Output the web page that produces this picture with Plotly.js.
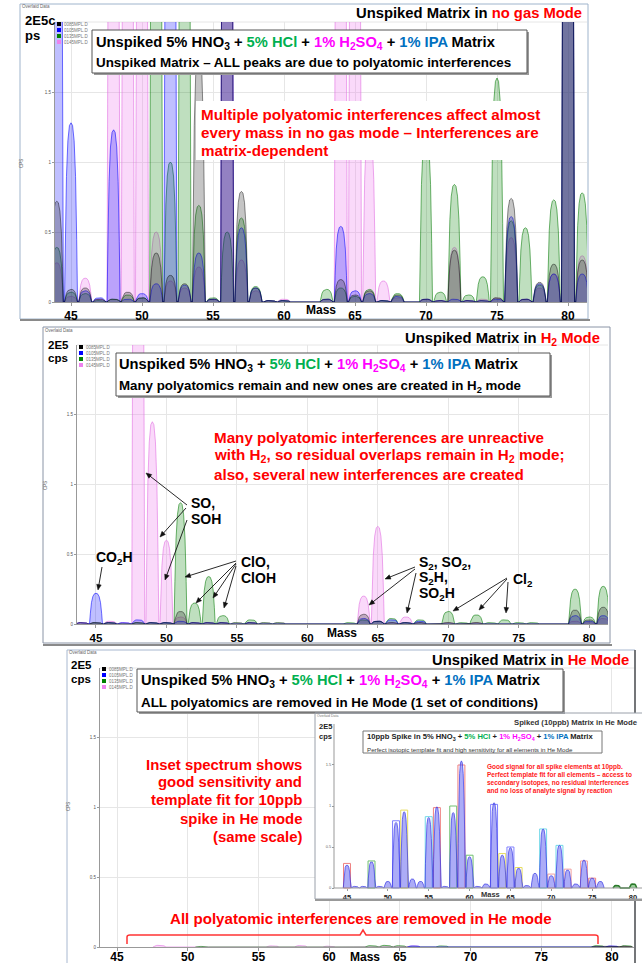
<!DOCTYPE html>
<html><head><meta charset="utf-8">
<script src="https://cdn.plot.ly/plotly-3.0.1.min.js"></script>
<style>html,body{margin:0;padding:0;background:#fff}#chart{width:642px;height:963px}</style>
</head><body><div id="chart"></div>
<script>
// ================= DATA =================
const seriesNames = ['0085MPL.D', '0105MPL.D', '0135MPL.D', '0145MPL.D'];
const massTicks = [45, 50, 55, 60, 65, 70, 75, 80];
const yTickVals = [0, 0.5, 1, 1.5];
const yTickText = ['0', '0.5', '1', '1.5'];

// Panel 1 : unspiked matrix, no gas mode (x1E5 cps; 6 = off scale)
const noGasMass  = [44,45,46,47,48,49,50,51,52,53,54,55,56,57,58,59,60,63,64,65,66,67,68,70,71,72,73,74,75,76,77,78,79,80,81];
const noGasBlack = [0.72,0.09,0.10,0.02,0.02,0.07,0.03,0.35,0.19,0.13,1.80,0.02,6,0.79,0.10,0.01,0.01,0.02,0.16,0.05,0.08,0.01,0.05,0.02,0.01,0.37,0.01,0.01,0.03,0.74,0.02,0.14,0.27,6,0.30];
const noGasBlue  = [6,1.28,0.08,0.03,1.23,0.02,0.06,0.13,6,0.12,0.35,0.02,6,0.53,0.10,0.01,0.01,0.02,0.54,0.08,0.06,0.01,0.04,0.02,0.01,0.02,0.01,0.01,0.02,0.61,0.02,0.13,0.20,6,0.20];
const noGasGreen = [0.39,0.07,0.06,0.01,0.02,0.05,0.03,6,1.00,6,0.69,0.03,0.50,0.60,0.11,0.01,0.01,0.09,0.10,0.04,0.09,0.01,0.06,1.20,0.07,0.84,0.05,0.18,1.60,0.58,0.53,0.12,0.73,6,0.78];
const noGasPink  = [0.28,0.04,0.17,0.02,6,6,6,0.50,0.15,0.10,0.25,0.02,6,0.30,0.08,0.01,0.02,0.02,6,6,1.25,0.15,0.03,0.02,0.01,0.39,0.01,0.02,0.03,0.46,0.02,0.10,0.20,6,0.33];

// Panel 2 : unspiked matrix, H2 mode
const h2Mass  = [44,45,46,47,48,49,50,51,52,53,54,55,56,57,58,63,64,65,66,67,68,70,71,72,73,74,75,76,79,80,81];
const h2Black = [0.01,0.01,0.01,0,0.01,0.01,0.01,0.09,0.01,0.01,0.01,0,0.01,0,0,0,0.07,0.02,0.01,0.01,0.01,0.01,0,0.01,0,0,0,0,0.10,0.03,0.12];
const h2Blue  = [0.01,0.22,0.01,0.01,0.03,0.01,0.01,0.02,0.01,0.01,0.01,0,0.01,0,0,0,0.04,0.02,0.03,0.01,0.02,0,0,0,0,0,0,0,0.06,0.02,0.06];
const h2Green = [0,0.01,0.01,0,0.01,0.01,0.01,0.87,0.15,0.34,0.06,0.01,0.03,0.01,0.01,0.01,0.03,0.02,0.04,0.01,0.03,0.09,0.01,0.065,0.01,0.03,0.01,0.01,0.25,0.05,0.27];
const h2Pink  = [0.01,0.01,0.02,0.01,6,1.45,0.60,0.05,0.01,0.01,0.01,0.01,0.01,0.01,0.01,0,0.20,0.70,0.01,0.05,0.01,0.01,0,0.01,0,0,0,0,0.02,0.01,0.04];

// Panel 3 : unspiked matrix, He mode
const heMass  = [48,51,56,58,60,63,64,65,66,68,79,80,81];
const heBlack = [0,0,0,0,0,0,0,0,0,0,0.005,0,0.005];
const heBlue  = [0,0,0,0,0,0,0,0,0.008,0,0,0.008,0];
const heGreen = [0,0.004,0,0,0,0.01,0.012,0.01,0,0.008,0.01,0,0.01];
const hePink  = [0.012,0,0.008,0.01,0.006,0,0,0,0.008,0,0,0.006,0.006];

// Inset : 10 ppb spike, He mode
const spikeMass = [45,46,47,48,49,50,51,52,53,54,55,56,57,58,59,60,61,62,63,64,65,66,67,68,69,70,71,72,73,74,75,76];
const spikeCps  = [0.28,0.02,0.02,0.32,0.02,0.08,0.80,0.93,0.11,0.08,0.86,0.99,0.02,0.92,1.55,0.38,0.02,0.05,1.04,0.40,0.49,0.24,0.03,0.18,0.72,0.15,0.52,0.22,0.05,0.34,0.12,0.08];
const spikeFlatMass = [78, 80];
const spikeFlatCps  = [0.03, 0.05];
const templateMass = [45,48,51,52,55,56,58,59,60,63,64,65,66,69,70,71,72,74,75];
const templateCps  = [0.30,0.33,0.82,0.95,0.87,0.98,1.00,1.50,0.40,1.02,0.42,0.50,0.25,0.72,0.17,0.52,0.23,0.33,0.12];

// ================= STYLE =================
const templateColors = ['#ee8080','#70c070','#8080ff','#e6dc60','#70d8e8','#ee8080','#70c070','#ee8080','#70c070','#8080ff','#e6dc60','#8080ff','#e6dc60','#70d8e8','#f0a0a0','#70d8e8','#f0a0a0','#f0a0a0','#ee8080'];
const PROFILE_DX = [-0.46,-0.4,-0.32,-0.22,-0.11,0,0.11,0.22,0.32,0.4,0.46];
const PROFILE_F  = [0,0.35,0.7,0.9,0.985,1,0.985,0.9,0.7,0.35,0];
const SANS = 'Liberation Sans, Arial, sans-serif';
const NARROW = 'Liberation Sans Narrow, Arial Narrow, Liberation Sans, Arial, sans-serif';
const SER = [
  {line:'rgba(0,0,0,0.55)', fill:'rgba(40,40,40,0.27)', sq:'#000000'},
  {line:'rgba(0,0,255,0.7)', fill:'rgba(0,0,255,0.25)', sq:'#0000ff'},
  {line:'rgba(0,120,0,0.7)', fill:'rgba(0,128,0,0.25)', sq:'#008000'},
  {line:'rgba(225,110,225,0.75)', fill:'rgba(238,130,238,0.3)', sq:'#ee82ee'}
];
const W = 642, H = 963;
const px = x => x / W, py = y => 1 - y / H;

function peakTrace(mass, vals, st, xa, ya, lw) {
  const x = [], y = [];
  mass.forEach((m, i) => {
    const h = vals[i];
    if (!(h > 0)) return;
    PROFILE_DX.forEach((d, k) => { x.push(m + d); y.push(h * PROFILE_F[k]); });
  });
  return {type:'scatter', mode:'lines', x, y, xaxis:xa, yaxis:ya, fill:'tozeroy',
          fillcolor:st.fill, line:{color:st.line, width:lw || 0.8}, hoverinfo:'skip', showlegend:false};
}

const traces = [];
function panel(mass, arrs, xa, ya) {
  [3, 2, 1, 0].forEach(k => traces.push(peakTrace(mass, arrs[k], SER[k], xa, ya)));
}
panel(noGasMass, [noGasBlack, noGasBlue, noGasGreen, noGasPink], 'x', 'y');
panel(h2Mass, [h2Black, h2Blue, h2Green, h2Pink], 'x2', 'y2');
panel(heMass, [heBlack, heBlue, heGreen, hePink], 'x3', 'y3');
traces.push(peakTrace(spikeMass, spikeCps, {line:'rgba(60,60,230,0.9)', fill:'rgba(90,90,240,0.5)'}, 'x4', 'y4', 0.8));
traces.push(peakTrace(spikeFlatMass, spikeFlatCps, {line:'#2a7a2a', fill:'rgba(0,128,0,0.4)'}, 'x4', 'y4', 1.5));
traces.push({type:'bar', x:templateMass, y:templateCps, xaxis:'x4', yaxis:'y4', width:0.85,
  marker:{color:'rgba(0,0,0,0)', line:{color:templateColors, width:1}}, hoverinfo:'skip', showlegend:false});

function xAxis(l, r, range, anchor, font, standoff) {
  return {domain:[px(l), px(r)], range, anchor, tickmode:'array', tickvals:massTicks,
    ticktext:massTicks.map(String), showgrid:true, gridcolor:'#e6e6e6', showline:true,
    linecolor:'#999', linewidth:1, ticks:'outside', ticklen:3, tickcolor:'#999',
    ticklabelstandoff:standoff || 0,
    tickfont:font, zeroline:false, fixedrange:true};
}
function yAxis(t, b, anchor) {
  return {domain:[py(b), py(t)], range:[0, 2], anchor, tickmode:'array', tickvals:yTickVals,
    ticktext:yTickText, showgrid:true, gridcolor:'#e6e6e6', showline:true, linecolor:'#999',
    linewidth:1, ticks:'outside', ticklen:2, tickcolor:'#999',
    tickfont:{family:SANS, size:4.5, color:'#555'}, zeroline:false, fixedrange:true};
}
const tfNarrow = {family:NARROW, size:12, color:'#000', weight:700};
const tfReg = {family:SANS, size:11.5, color:'#000', weight:700};

// ================= SHAPES / TEXT =================
const shapes = [], annotations = [];
function rect(x0, y0, x1, y1, o) {
  shapes.push(Object.assign({type:'rect', xref:'paper', yref:'paper', x0:px(x0), x1:px(x1), y0:py(y1), y1:py(y0),
    layer:'above', line:{width:0}}, o));
}
function seg(x0, y0, x1, y1, color, width, layer) {
  shapes.push({type:'line', xref:'paper', yref:'paper', x0:px(x0), y0:py(y0), x1:px(x1), y1:py(y1),
    line:{color, width}, layer:layer || 'above'});
}
function txt(x, y, text, o) {
  o = o || {};
  annotations.push({xref:'paper', yref:'paper', x:px(x), y:py(y), text, showarrow:false,
    xanchor:o.xa || 'left', yanchor:'middle', align:o.align || o.xa || 'left', borderpad:0,
    font:{family:o.family || SANS, size:o.size || 12, color:o.color || '#000', weight:(o.weight === undefined ? 700 : o.weight)},
    textangle:o.angle || 0});
}
function arrow(hx, hy, tx, ty) {
  const dx = hx - tx, dy = hy - ty, L = Math.hypot(dx, dy), ux = dx / L, uy = dy / L, nx = -uy, ny = ux;
  seg(tx, ty, hx - 4 * ux, hy - 4 * uy, '#111', 0.9);
  const bx = hx - 5.5 * ux, by = hy - 5.5 * uy;
  shapes.push({type:'path', xref:'paper', yref:'paper', layer:'above', fillcolor:'#111', line:{color:'#111', width:0.5},
    path:'M ' + px(hx) + ' ' + py(hy) + ' L ' + px(bx + 2.3 * nx) + ' ' + py(by + 2.3 * ny) +
         ' L ' + px(bx - 2.3 * nx) + ' ' + py(by - 2.3 * ny) + ' Z'});
}
function legend(x, y) {
  seriesNames.forEach((n, i) => {
    rect(x, y + i * 6, x + 4, y + i * 6 + 4, {fillcolor:SER[i].sq});
    txt(x + 6, y + i * 6 + 2, n, {size:4.5, color:'#777', weight:400});
  });
}
const mix = '<span style="color:#00b050">5% HCl</span> + <span style="color:#ff00ff">1% H<sub>2</sub>SO<sub>4</sub></span> + <span style="color:#0070c0">1% IPA</span> Matrix';
const line1 = 'Unspiked 5% HNO<sub>3</sub> + ' + mix;

// ----- Panel 1 -----
rect(20, 4, 588, 319, {layer:'below', line:{color:'#9fb4cc', width:1}});
seg(20, 320, 590, 320, '#8a8a8a', 2, 'below');
seg(55, 22, 587, 22, '#e6e6e6', 1, 'below');
txt(21, 7, 'Overlaid Data', {size:4.5, color:'#666', weight:400});
txt(24, 20, '2E5c', {family:NARROW, size:13});
txt(24, 35, 'ps', {family:NARROW, size:13});
txt(22, 163, 'CPS', {size:4.5, color:'#666', weight:400, angle:-90, xa:'center'});
legend(57, 22);
txt(583, 13, 'Unspiked Matrix in <span style="color:#ff0000">no gas Mode</span>', {xa:'right', size:14.8});
rect(94, 32, 529, 75, {fillcolor:'#9a9a9a'});
rect(92, 30, 527, 73, {fillcolor:'#ffffff', line:{color:'#555', width:1}});
txt(95, 43, line1, {size:14.7});
txt(95, 62, 'Unspiked Matrix – ALL peaks are due to polyatomic interferences', {size:13.4});
rect(196, 101, 546, 160, {fillcolor:'#ffffff'});
txt(200, 114, 'Multiple polyatomic interferences affect almost', {size:15.2, color:'#ff0000'});
txt(200, 132, 'every mass in no gas mode – Interferences are', {size:15.2, color:'#ff0000'});
txt(200, 150, 'matrix-dependent', {size:15.2, color:'#ff0000'});
txt(321, 310, 'Mass', {xa:'center', family:NARROW, size:12});

// ----- Panel 2 -----
rect(43, 327, 610, 643, {layer:'below', line:{color:'#8a94a6', width:1}});
seg(43, 645, 612, 645, '#8a8a8a', 2, 'below');
seg(77, 345, 608, 345, '#e6e6e6', 1, 'below');
txt(44, 330, 'Overlaid Data', {size:4.5, color:'#666', weight:400});
txt(47, 345, '2E5', {size:11.5});
txt(47, 358, 'cps', {size:11.5});
txt(45, 485, 'CPS', {size:4.5, color:'#666', weight:400, angle:-90, xa:'center'});
legend(79, 345);
txt(601, 339, 'Unspiked Matrix in <span style="color:#ff0000">H<sub>2</sub> Mode</span>', {xa:'right', size:14.8});
rect(118, 355, 552, 398, {fillcolor:'#9a9a9a'});
rect(116, 353, 550, 396, {fillcolor:'#ffffff', line:{color:'#555', width:1}});
txt(118, 365, line1, {size:14.7});
txt(118, 386, 'Many polyatomics remain and new ones are created in H<sub>2</sub> mode', {size:13.3});
txt(213, 437, 'Many polyatomic interferences are unreactive', {size:15.2, color:'#ff0000'});
txt(213, 455, 'with H<sub>2</sub>, so residual overlaps remain in H<sub>2</sub> mode;', {size:15.2, color:'#ff0000'});
txt(213, 474, 'also, several new interferences are created', {size:15.2, color:'#ff0000'});
txt(342, 633, 'Mass', {xa:'center', size:12});
// labels + arrows
txt(114, 558, 'CO<sub>2</sub>H', {xa:'center', size:14});
arrow(98, 590, 102, 567);
txt(190, 503, 'SO,', {size:14});
txt(190, 519, 'SOH', {size:14});
arrow(146, 473, 187, 505);
arrow(160, 537, 186, 508);
arrow(165, 580, 187, 520);
txt(240, 562, 'ClO,', {size:14});
txt(240, 578, 'ClOH', {size:14});
arrow(185, 577, 236, 561);
arrow(196, 603, 236, 563);
arrow(213, 598, 236, 564);
arrow(224, 608, 236, 566);
txt(418, 563, 'S<sub>2</sub>, SO<sub>2</sub>,', {size:14});
txt(418, 578, 'S<sub>2</sub>H,', {size:14});
txt(418, 594, 'SO<sub>2</sub>H', {size:14});
arrow(385, 579, 415, 567);
arrow(369, 605, 415, 569);
arrow(407, 613, 416, 573);
txt(512, 580, 'Cl<sub>2</sub>', {size:14});
arrow(453, 611, 507, 578);
arrow(479, 610, 507, 579);
arrow(506, 613, 508, 582);

// ----- Panel 3 -----
rect(67, 650, 635, 975, {layer:'below', line:{color:'#a8b8d0', width:1}});
seg(635, 650, 635, 963, '#555', 1.5, 'below');
seg(100, 668, 634, 668, '#e6e6e6', 1, 'below');
txt(68, 652, 'Overlaid Data', {size:4.5, color:'#666', weight:400});
txt(70, 665, '2E5', {size:11.5});
txt(70, 679, 'cps', {size:11.5});
txt(68, 807, 'CPS', {size:4.5, color:'#666', weight:400, angle:-90, xa:'center'});
legend(102, 667);
txt(630, 660, 'Unspiked Matrix in <span style="color:#ff0000">He Mode</span>', {xa:'right', size:14.8});
rect(139, 671, 565, 714, {fillcolor:'#9a9a9a'});
rect(137, 669, 563, 712, {fillcolor:'#ffffff', line:{color:'#555', width:1}});
txt(140, 681, line1, {size:14.7});
txt(140, 702, 'ALL polyatomics are removed in He Mode (1 set of conditions)', {size:13.4});
['Inset spectrum shows', 'good sensitivity and', 'template fit for 10ppb', 'spike in He mode', '(same scale)']
  .forEach((s, i) => txt(303, [765, 782, 800, 819, 837][i], s, {xa:'right', size:14.9, color:'#ff0000'}));
txt(361, 918, 'All polyatomic interferences are removed in He mode', {xa:'center', size:15.1, color:'#ff0000'});
shapes.push({type:'path', xref:'paper', yref:'paper', layer:'above', line:{color:'#ff3333', width:1.5},
  path:'M ' + px(127) + ' ' + py(944) + ' L ' + px(127) + ' ' + py(937) + ' Q ' + px(127) + ' ' + py(935) + ' ' + px(130) + ' ' + py(935) +
       ' L ' + px(360) + ' ' + py(935) + ' L ' + px(363) + ' ' + py(930) + ' L ' + px(366) + ' ' + py(935) +
       ' L ' + px(595) + ' ' + py(935) + ' Q ' + px(598) + ' ' + py(935) + ' ' + px(598) + ' ' + py(937) + ' L ' + px(598) + ' ' + py(944)});
txt(365, 957, 'Mass', {xa:'center', family:NARROW, size:12});

// ----- Inset -----
rect(315, 713, 643, 899, {line:{color:'#9aa0aa', width:1}});
seg(315, 900, 643, 900, '#999', 2);
seg(334, 724, 334, 888, '#999', 1);
seg(334, 888, 643, 888, '#999', 1);
txt(316, 716, 'Overlaid Data', {size:3.5, color:'#777', weight:400});
txt(639, 722, 'Spiked (10ppb) Matrix in He Mode', {xa:'right', size:7.7, color:'#333'});
txt(318, 726, '2E5', {size:7.5, color:'#222'});
txt(318, 736, 'cps', {size:7.5, color:'#222'});
rect(363, 731, 602, 753, {fillcolor:'#ffffff', line:{color:'#777', width:1}});
txt(366, 737, '10ppb Spike in 5% HNO<sub>3</sub> + ' + mix, {size:7.6, color:'#222'});
txt(366, 749, 'Perfect isotopic template fit and high sensitivity for all elements in He Mode', {size:6.2, color:'#333', weight:400});
['Good signal for all spike elements at 10ppb.', 'Perfect template fit for all elements – access to',
 'secondary isotopes, no residual interferences', 'and no loss of analyte signal by reaction']
  .forEach((s, i) => txt(486, [767, 775, 783, 791][i], s, {size:6.5, color:'#ff2020'}));
txt(490, 894, 'Mass', {xa:'center', size:7.5, color:'#333'});

const layout = {
  width:W, height:H, margin:{l:0, r:0, t:0, b:0}, paper_bgcolor:'#ffffff', plot_bgcolor:'#ffffff',
  showlegend:false, barmode:'overlay',
  xaxis:xAxis(55, 587, [43.873, 81.338], 'y', tfNarrow),
  yaxis:yAxis(22, 302, 'x'),
  xaxis2:xAxis(77, 608, [43.652, 81.338], 'y2', tfReg),
  yaxis2:yAxis(345, 624, 'x2'),
  xaxis3:xAxis(100, 634, [43.798, 81.56], 'y3', tfNarrow, -4),
  yaxis3:yAxis(668, 947, 'x3'),
  xaxis4:{domain:[px(315), 1], range:[41.084, 81.10], anchor:'free', position:py(888), tickmode:'array',
    tickvals:massTicks, ticktext:massTicks.map(String), showgrid:false, showline:false, zeroline:false,
    ticks:'outside', ticklen:2, tickcolor:'#999', tickfont:{family:SANS, size:7.5, color:'#222', weight:700}, fixedrange:true},
  yaxis4:{domain:[py(899), py(713)], range:[-0.134, 2.134], anchor:'free', position:px(334), tickmode:'array',
    tickvals:[0, 0.5, 1, 1.5], ticktext:['0', '0.5', '1', '1.5'], showgrid:false, showline:false, zeroline:false,
    ticks:'outside', ticklen:2, tickcolor:'#999', tickfont:{family:SANS, size:4, color:'#666'}, fixedrange:true},
  shapes, annotations
};
Plotly.newPlot('chart', traces, layout, {staticPlot:true, displayModeBar:false});
</script>
</body></html>
